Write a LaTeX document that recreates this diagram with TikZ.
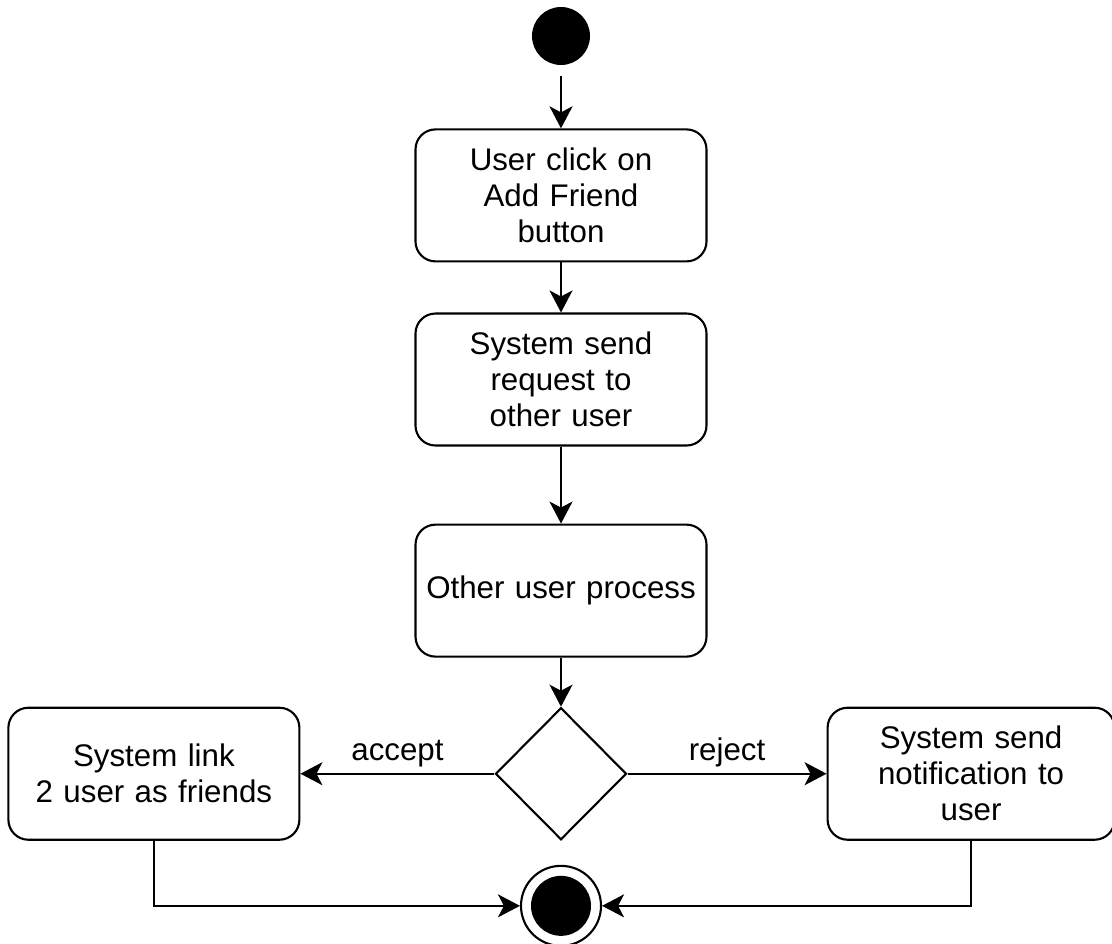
\documentclass[tikz,border=0pt]{standalone}
\usepackage{fontspec}
\setmainfont{Liberation Sans}
\usetikzlibrary{shapes.geometric, arrows.meta, positioning, calc}

\begin{document}
\begin{tikzpicture}[
		node distance=1.0cm and 3.9cm,
		every node/.style={font=\fontsize{17.8pt}{20.5pt}\selectfont},
		block/.style={rectangle, draw, line width=1.2pt, text width=5.4cm, align=center, rounded corners=0.4cm, minimum width=5.82cm, minimum height=2.64cm},
		decision/.style={diamond, draw, line width=1.2pt, inner sep=0pt, minimum width=2.62cm, minimum height=2.64cm},
		initial/.style={circle, fill=black, inner sep=0pt, minimum size=1.16cm},
		final/.style={circle, draw, line width=1.2pt, inner sep=0pt, minimum size=1.6cm},
		line/.style={draw, line width=1.2pt, -{Stealth[length=0.44cm, width=0.46cm, inset=0.12cm]}}
	]
	\useasboundingbox (0,0) rectangle (22.24,-18.88);

	% Start state
	\node [initial] (start) at (11.22,-0.72) {};

	% Main flow
	\node [block, below=1.26cm of start] (click) {User click on\\Add Friend\\button};
	\node [block, below=of click] (request) {System send\\request to\\other user};
	\node [block, below=1.54cm of request] (process) {Other user process};

	% Branch
	\node [decision, below=0.98cm of process] (choice) {};
	\node [block, left=3.88cm of choice] (link) {System link\\2 user as friends};
	\node [block, minimum width=5.74cm, right=3.98cm of choice] (notify) {System send\\notification to\\user};

	% End state
	\node [final, below=0.48cm of choice] (finish) {};
	\node [initial, minimum size=1.2cm] (finishdot) at (finish) {};

	% Edges
	\path [line, shorten <=0.22cm] (start) -- (click);
	\path [line] (click) -- (request);
	\path [line] (request) -- (process);
	\path [line] (process) -- (choice);
	\path [line] (choice) -- node[above] {accept} (link);
	\path [line] (choice) -- node[above] {reject} (notify);
	\path [line] (link) |- (finish);
	\path [line] (notify) |- (finish);

\end{tikzpicture}
\end{document}
